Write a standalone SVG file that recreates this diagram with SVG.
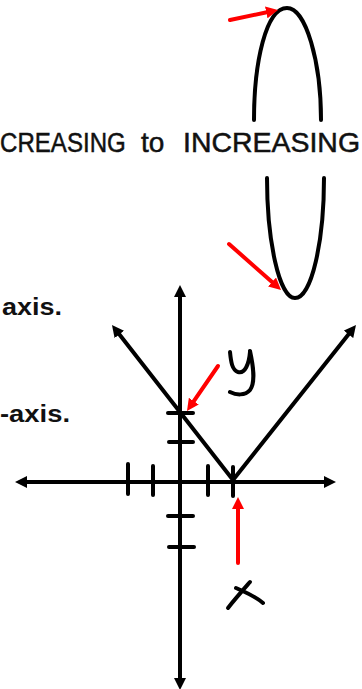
<svg xmlns="http://www.w3.org/2000/svg" width="362" height="689" viewBox="0 0 362 689">
<style>
.t{font-family:"Liberation Sans",Arial,sans-serif;fill:#111}
.ti{font-size:28px;stroke:#111;stroke-width:0.5}
.ax{stroke:#000;stroke-width:4;fill:none}
.tk{stroke:#000;stroke-width:4;stroke-linecap:round;fill:none}
.rd{stroke:#f00;stroke-width:4;stroke-linecap:round;fill:none}
.hw{stroke:#000;stroke-width:4;stroke-linecap:round;stroke-linejoin:round;fill:none}
</style>
<defs>
<marker id="ab" markerUnits="userSpaceOnUse" markerWidth="12" markerHeight="12" refX="3" refY="6" orient="auto-start-reverse" viewBox="0 0 12 12"><path d="M0,0 L12,6 L0,12 z" fill="#000"/></marker>
<marker id="ar" markerUnits="userSpaceOnUse" markerWidth="12" markerHeight="12" refX="3" refY="6" orient="auto-start-reverse" viewBox="0 0 12 12"><path d="M0,0 L12,6 L0,12 z" fill="#f00"/></marker>
</defs>
<g id="title">
<text class="t ti" transform="translate(0,152) scale(0.86,1)" x="0" y="0">CREASING</text>
<text class="t ti" x="141" y="152">to</text>
<text class="t ti" x="183" y="152" textLength="177" lengthAdjust="spacingAndGlyphs">INCREASING</text>
</g>
<g id="text-axis1"><text class="t" x="2" y="315" font-size="23" font-weight="bold" fill="#222" textLength="60" lengthAdjust="spacingAndGlyphs">axis.</text></g>
<g id="text-axis2"><text class="t" x="0" y="422" font-size="23" font-weight="bold" textLength="70" lengthAdjust="spacingAndGlyphs">-axis.</text></g>
<g id="oval">
<path class="hw" d="M254,120 C254,62 266,8 287,8 C306,8 321,62 321,120"/>
<path class="hw" d="M267,178 C267,240 279,298 295,298 C312,298 324,240 324,178"/>
</g>
<g id="connectors">
<line class="ax" x1="180" y1="294" x2="180" y2="681" marker-start="url(#ab)" marker-end="url(#ab)"/>
<line class="ax" x1="24" y1="482" x2="327" y2="482" marker-start="url(#ab)" marker-end="url(#ab)"/>
<polyline class="ax" points="117.5,332.1 233,480 350.4,332" marker-start="url(#ab)" marker-end="url(#ab)"/>
<line class="rd" x1="230" y1="20" x2="269.2" y2="11.8" marker-end="url(#ar)"/>
<line class="rd" x1="229" y1="244" x2="274.3" y2="284" marker-end="url(#ar)"/>
<line class="rd" x1="218" y1="366" x2="192.1" y2="403.6" marker-end="url(#ar)"/>
<line class="rd" x1="238" y1="563" x2="238" y2="506" marker-end="url(#ar)"/>
</g>
<g id="ticks">
<line class="tk" x1="168" y1="413" x2="193" y2="413"/>
<line class="tk" x1="169" y1="442" x2="193" y2="442"/>
<line class="tk" x1="168" y1="516" x2="193" y2="516"/>
<line class="tk" x1="169" y1="547" x2="194" y2="547"/>
<line class="tk" x1="128" y1="464" x2="128" y2="494"/>
<line class="tk" x1="153" y1="466" x2="153" y2="495"/>
<line class="tk" x1="208" y1="466" x2="208" y2="495"/>
<line class="tk" x1="233" y1="467" x2="233" y2="496"/>
</g>
<g id="label-y">
<path class="hw" d="M230,352 C231,362 232,370 238,372 C245,374 249,364 250,352"/>
<path class="hw" d="M250,351 C253,365 256,382 250,390 C245,396 236,395 230,392"/>
</g>
<g id="label-x">
<path class="hw" d="M250,582 C243,590 235,599 228,608"/>
<path class="hw" d="M236,588 C245,592 255,596 263,603"/>
</g>
</svg>
